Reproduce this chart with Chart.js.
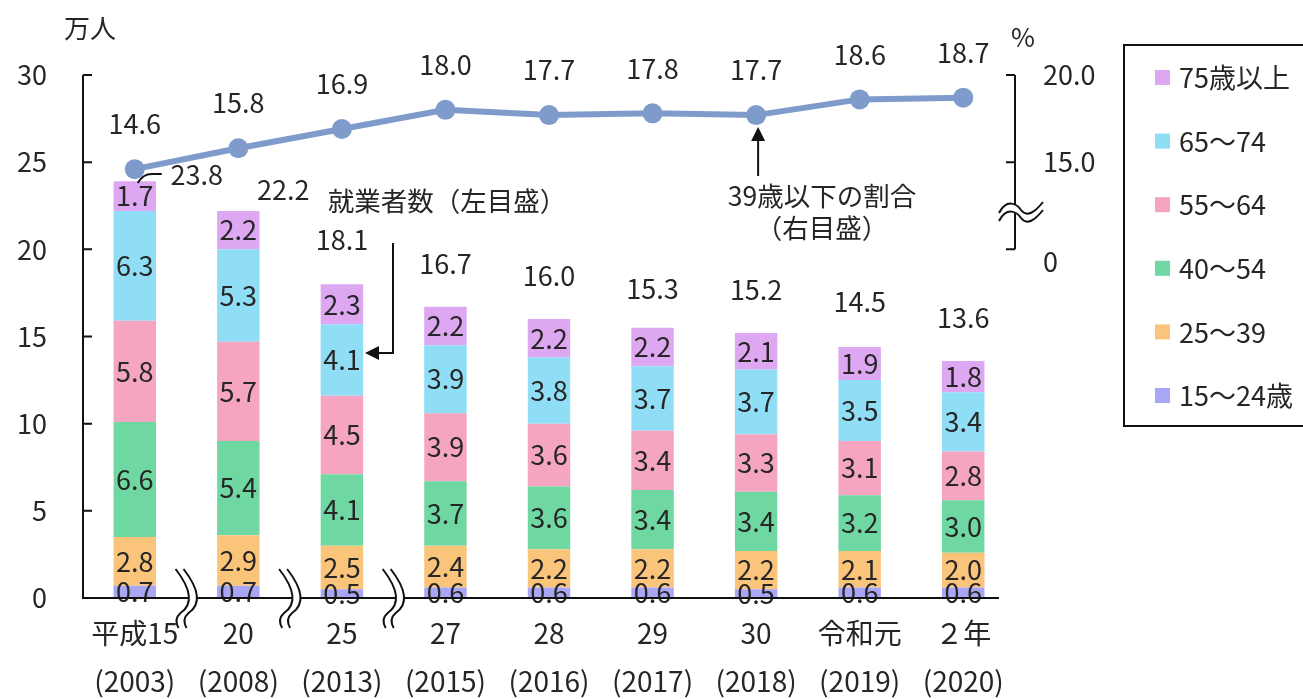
<!DOCTYPE html>
<html lang="ja">
<head>
<meta charset="utf-8">
<script src="https://cdn.jsdelivr.net/npm/chart.js@4"></script>
<style>
  html, body { margin: 0; padding: 0; background: #fff; }
  canvas { display: block; }
</style>
</head>
<body>
<canvas id="graphs" width="1303" height="699"></canvas>
<script>
// 年次ラベル（上段：和暦、下段：西暦）
const yearLabels = [
  ['平成15', '(2003)'], ['20', '(2008)'], ['25', '(2013)'], ['27', '(2015)'],
  ['28', '(2016)'], ['29', '(2017)'], ['30', '(2018)'], ['令和元', '(2019)'], ['２年', '(2020)']
];

// 年齢階級別就業者数（万人）
const age15to24 = [0.7, 0.7, 0.5, 0.6, 0.6, 0.6, 0.5, 0.6, 0.6];
const age25to39 = [2.8, 2.9, 2.5, 2.4, 2.2, 2.2, 2.2, 2.1, 2.0];
const age40to54 = [6.6, 5.4, 4.1, 3.7, 3.6, 3.4, 3.4, 3.2, 3.0];
const age55to64 = [5.8, 5.7, 4.5, 3.9, 3.6, 3.4, 3.3, 3.1, 2.8];
const age65to74 = [6.3, 5.3, 4.1, 3.9, 3.8, 3.7, 3.7, 3.5, 3.4];
const age75over = [1.7, 2.2, 2.3, 2.2, 2.2, 2.2, 2.1, 1.9, 1.8];
const totals = [23.8, 22.2, 18.1, 16.7, 16.0, 15.3, 15.2, 14.5, 13.6];

// 39歳以下の割合（%）
const ratioUnder39 = [14.6, 15.8, 16.9, 18.0, 17.7, 17.8, 17.7, 18.6, 18.7];

// 目盛
const leftTicks = [0, 5, 10, 15, 20, 25, 30];
const rightTicks = [10, 15, 20]; // 10 の位置に「0」を表示（軸を省略）

const FONT = "'Noto Sans CJK JP', 'Noto Sans', sans-serif";
const TXT = '#262626';

const barSets = [
  { label: '15～24歳', data: age15to24, color: '#aaa6f6' },
  { label: '25～39', data: age25to39, color: '#fbc47b' },
  { label: '40～54', data: age40to54, color: '#6fd8a2' },
  { label: '55～64', data: age55to64, color: '#f6a5c1' },
  { label: '65～74', data: age65to74, color: '#90def6' },
  { label: '75歳以上', data: age75over, color: '#dea7f1' }
];

function arrowHead(ctx, x, y, dir) {
  ctx.beginPath();
  if (dir === 'left') {
    ctx.moveTo(x, y); ctx.lineTo(x + 14, y - 7); ctx.lineTo(x + 14, y + 7);
  } else {
    ctx.moveTo(x, y); ctx.lineTo(x - 7, y + 14); ctx.lineTo(x + 7, y + 14);
  }
  ctx.closePath();
  ctx.fill();
}

function breakOnX(ctx, x, y) {
  const path = (cx) => {
    ctx.beginPath();
    ctx.moveTo(cx - 9, y - 29);
    ctx.quadraticCurveTo(cx + 15, y + 2, cx - 4, y + 15);
    ctx.quadraticCurveTo(cx - 11, y + 21, cx - 6, y + 30);
  };
  ctx.save();
  ctx.strokeStyle = '#fff'; ctx.lineWidth = 8;
  path(x); ctx.stroke();
  ctx.strokeStyle = '#111'; ctx.lineWidth = 2;
  path(x - 4); ctx.stroke();
  path(x + 4); ctx.stroke();
  ctx.restore();
}

function breakOnY(ctx, x, y) {
  const path = (cy) => {
    ctx.beginPath();
    ctx.moveTo(x - 16, cy + 5);
    ctx.bezierCurveTo(x - 8, cy - 10, x + 2, cy - 4, x + 6, cy + 2);
    ctx.bezierCurveTo(x + 12, cy + 10, x + 20, cy + 4, x + 28, cy - 6);
  };
  ctx.save();
  ctx.strokeStyle = '#fff'; ctx.lineWidth = 8;
  path(y); ctx.stroke();
  ctx.strokeStyle = '#111'; ctx.lineWidth = 2;
  path(y - 4); ctx.stroke();
  path(y + 4); ctx.stroke();
  ctx.restore();
}

const decorations = {
  id: 'decorations',
  afterDatasetsDraw(chart) {
    const ctx = chart.ctx;
    const area = chart.chartArea;
    const y = chart.scales.y;
    const y2 = chart.scales.y2;
    ctx.save();
    ctx.fillStyle = TXT;
    ctx.textAlign = 'center';
    ctx.textBaseline = 'middle';

    // 積み上げ各部の数値
    ctx.font = '27px ' + FONT;
    barSets.forEach((s, di) => {
      const meta = chart.getDatasetMeta(di);
      meta.data.forEach((bar, i) => {
        ctx.fillText(s.data[i].toFixed(1), bar.x, (bar.y + bar.base) / 2);
      });
    });

    // 合計
    const topMeta = chart.getDatasetMeta(barSets.length - 1);
    topMeta.data.forEach((bar, i) => {
      const top = y.getPixelForValue(totals[i]);
      let lx = bar.x, ly = top - 43;
      if (i === 0) {
        lx = bar.x + 62; ly = top - 8;
        ctx.save();
        ctx.strokeStyle = '#111'; ctx.lineWidth = 2;
        ctx.beginPath();
        ctx.moveTo(bar.x + 3, top);
        ctx.quadraticCurveTo(bar.x + 8, top - 9, bar.x + 17, top - 9);
        ctx.lineTo(bar.x + 27, top - 9);
        ctx.stroke();
        ctx.restore();
      } else if (i === 1) {
        lx = bar.x + 45; ly = top - 21;
      }
      ctx.fillText(totals[i].toFixed(1), lx, ly);
    });

    // 割合
    const lineMeta = chart.getDatasetMeta(barSets.length);
    lineMeta.data.forEach((pt, i) => {
      ctx.fillText(ratioUnder39[i].toFixed(1), pt.x, pt.y - 45);
    });

    // 注記
    ctx.font = '26.5px ' + FONT;
    ctx.fillText('就業者数（左目盛）', 447, 201);
    ctx.fillText('39歳以下の割合', 822, 196);
    ctx.fillText('（右目盛）', 822, 228);

    ctx.strokeStyle = '#111';
    ctx.fillStyle = '#111';
    ctx.lineWidth = 2;
    ctx.beginPath();
    ctx.moveTo(393, 243); ctx.lineTo(393, 353); ctx.lineTo(378, 353);
    ctx.stroke();
    arrowHead(ctx, 365, 353, 'left');
    const p7 = lineMeta.data[6];
    ctx.beginPath();
    ctx.moveTo(p7.x + 2, 176); ctx.lineTo(p7.x + 2, p7.y + 24);
    ctx.stroke();
    arrowHead(ctx, p7.x + 2, p7.y + 12, 'up');

    // 単位、右軸の「0」
    ctx.fillStyle = TXT;
    ctx.font = '26px ' + FONT;
    ctx.fillText('万人', 90, 28);
    ctx.fillText('%', 1023, 37);
    ctx.textAlign = 'left';
    ctx.font = '27px ' + FONT;
    ctx.fillText('0', area.right + 28, y2.getPixelForValue(10) + 12);
    ctx.textAlign = 'center';

    // 軸線と内向き目盛
    ctx.strokeStyle = '#111';
    ctx.lineWidth = 2;
    ctx.beginPath();
    ctx.moveTo(area.left, y.getPixelForValue(30));
    ctx.lineTo(area.left, area.bottom);
    ctx.lineTo(area.right - 16, area.bottom);
    leftTicks.forEach(v => {
      const py = y.getPixelForValue(v);
      ctx.moveTo(area.left, py); ctx.lineTo(area.left + 9, py);
    });
    ctx.moveTo(area.right, y2.getPixelForValue(20));
    ctx.lineTo(area.right, y2.getPixelForValue(10));
    rightTicks.forEach(v => {
      const py = y2.getPixelForValue(v);
      ctx.moveTo(area.right, py); ctx.lineTo(area.right - 9, py);
    });
    ctx.stroke();

    // 省略記号
    const m = chart.getDatasetMeta(0).data;
    for (let i = 0; i < 3; i++) {
      breakOnX(ctx, (m[i].x + m[i + 1].x) / 2 + 2, area.bottom);
    }
    breakOnY(ctx, area.right, 212);

    // 凡例
    ctx.lineWidth = 2;
    ctx.strokeRect(1124, 45, 240, 381);
    ctx.font = '27px ' + FONT;
    ctx.textAlign = 'left';
    barSets.slice().reverse().forEach((s, k) => {
      const cy = 77 + k * 63.6;
      ctx.fillStyle = s.color;
      ctx.fillRect(1155, cy - 7, 15, 15);
      ctx.fillStyle = TXT;
      ctx.fillText(s.label, 1179, cy + 1);
    });

    ctx.restore();
  }
};

const datasets = barSets.map(s => ({
  type: 'bar',
  label: s.label,
  data: s.data,
  backgroundColor: s.color,
  yAxisID: 'y',
  stack: 'workers',
  barPercentage: 0.41,
  categoryPercentage: 1.0,
  order: 1
}));
datasets.push({
  type: 'line',
  label: '39歳以下の割合',
  data: ratioUnder39,
  yAxisID: 'y2',
  borderColor: '#7f9bcb',
  backgroundColor: '#7f9bcb',
  borderWidth: 6,
  pointRadius: 10,
  pointBorderWidth: 0,
  tension: 0,
  order: 0
});

const ctx = document.getElementById('graphs').getContext('2d');
new Chart(ctx, {
  data: { labels: yearLabels, datasets: datasets },
  options: {
    responsive: false,
    animation: false,
    layout: { padding: { left: 0, top: 75, right: 208, bottom: 0 } },
    plugins: { legend: { display: false }, tooltip: { enabled: false } },
    scales: {
      x: {
        stacked: true,
        grid: { display: false, drawTicks: false },
        border: { display: false },
        ticks: {
          color: TXT, padding: 12, maxRotation: 0, autoSkip: false,
          font: { family: FONT, size: 28, lineHeight: 1.7 }
        },
        afterFit(scale) { scale.height = 101; }
      },
      y: {
        stacked: true,
        position: 'left',
        min: 0, max: 30,
        grid: { display: false, drawTicks: false },
        border: { display: false },
        afterBuildTicks(scale) { scale.ticks = leftTicks.map(v => ({ value: v })); },
        ticks: { color: TXT, padding: 36, font: { family: FONT, size: 27 } },
        afterFit(scale) { scale.width = 83; }
      },
      y2: {
        position: 'right',
        min: -10, max: 20,
        grid: { display: false, drawTicks: false },
        border: { display: false },
        afterBuildTicks(scale) { scale.ticks = rightTicks.map(v => ({ value: v })); },
        ticks: {
          color: TXT, padding: 28, font: { family: FONT, size: 27 },
          callback: v => (v === 10 ? '' : v.toFixed(1))
        },
        afterFit(scale) { scale.width = 80; }
      }
    }
  },
  plugins: [decorations]
});
</script>
</body>
</html>
